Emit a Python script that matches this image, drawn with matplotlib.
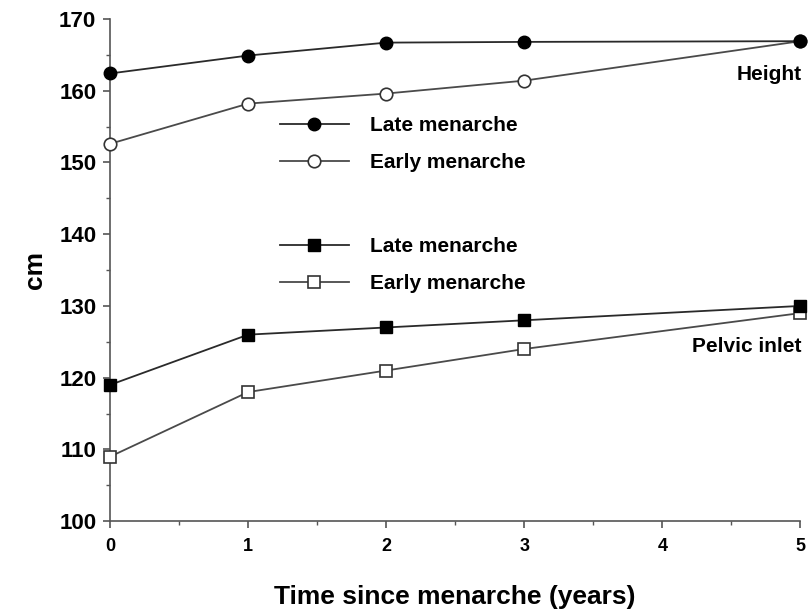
import matplotlib
matplotlib.use("Agg")
import matplotlib.pyplot as plt
from matplotlib.ticker import MultipleLocator

plt.rcParams['font.family'] = ['Liberation Sans', 'DejaVu Sans']
plt.rcParams['font.weight'] = 'bold'

years = [0, 1, 2, 3, 5]
height_late = [162.4, 164.9, 166.7, 166.8, 166.9]
height_early = [152.6, 158.2, 159.6, 161.4, 166.9]
pelvic_late = [119, 126, 127, 128, 130]
pelvic_early = [109, 118, 121, 124, 129]
series_labels = ['Late menarche', 'Early menarche']

fig = plt.figure(figsize=(8.10, 6.11), dpi=100)
ax = fig.add_axes([0.136, 0.147, 0.852, 0.822])

lc_late = '#2a2a2a'
lc_early = '#4a4a4a'
h2, = ax.plot(years, height_early, color=lc_early, lw=1.3, marker='o', ms=9,
              mfc='white', mec='#333333', mew=1.2, label=series_labels[1], clip_on=False, zorder=3)
h1, = ax.plot(years, height_late, color=lc_late, lw=1.3, marker='o', ms=9,
              mfc='black', mec='black', label=series_labels[0], clip_on=False, zorder=4)
p2, = ax.plot(years, pelvic_early, color=lc_early, lw=1.3, marker='s', ms=8.5,
              mfc='white', mec='#333333', mew=1.2, label=series_labels[1], clip_on=False, zorder=3)
p1, = ax.plot(years, pelvic_late, color=lc_late, lw=1.3, marker='s', ms=8.5,
              mfc='black', mec='black', label=series_labels[0], clip_on=False, zorder=4)

ax.set_xlim(0, 5)
ax.set_ylim(100, 170)
ax.xaxis.set_major_locator(MultipleLocator(1))
ax.xaxis.set_minor_locator(MultipleLocator(0.5))
ax.yaxis.set_major_locator(MultipleLocator(10))
ax.yaxis.set_minor_locator(MultipleLocator(5))
for s in ['top', 'right']:
    ax.spines[s].set_visible(False)
for s in ['left', 'bottom']:
    ax.spines[s].set_color('#555555')
    ax.spines[s].set_linewidth(1.2)
ax.tick_params(axis='both', which='major', direction='out', length=5, width=1.2, color='#555555')
ax.tick_params(axis='both', which='minor', direction='out', length=3, width=1.0, color='#555555')
ax.tick_params(axis='y', labelsize=16, pad=5)
ax.tick_params(axis='x', labelsize=13, pad=7)
for lab in ax.get_xticklabels() + ax.get_yticklabels():
    lab.set_fontweight('bold')

ax.set_xlabel('Time since menarche (years)', fontsize=19, fontweight='bold', va='center')
ax.xaxis.set_label_coords(0.5, -0.151)
ax.set_ylabel('cm', fontsize=19, fontweight='bold', va='center')
ax.yaxis.set_label_coords(-0.109, 0.5)

ax.text(5.01, 162.3, 'Height', ha='right', va='center', fontsize=15, fontweight='bold')
ax.text(5.01, 124.3, 'Pelvic inlet', ha='right', va='center', fontsize=15, fontweight='bold')

leg_kw = dict(loc='upper left', frameon=False, prop={'size': 15, 'weight': 'bold'},
              handlelength=3.3, handletextpad=1.0, labelspacing=0.88, borderaxespad=0,
              borderpad=0)
leg1 = ax.legend(handles=[h1, h2], bbox_to_anchor=(0.246, 0.807), **leg_kw)
ax.add_artist(leg1)
leg2 = ax.legend(handles=[p1, p2], bbox_to_anchor=(0.246, 0.566), **leg_kw)

fig.savefig('out.png', dpi=100)
